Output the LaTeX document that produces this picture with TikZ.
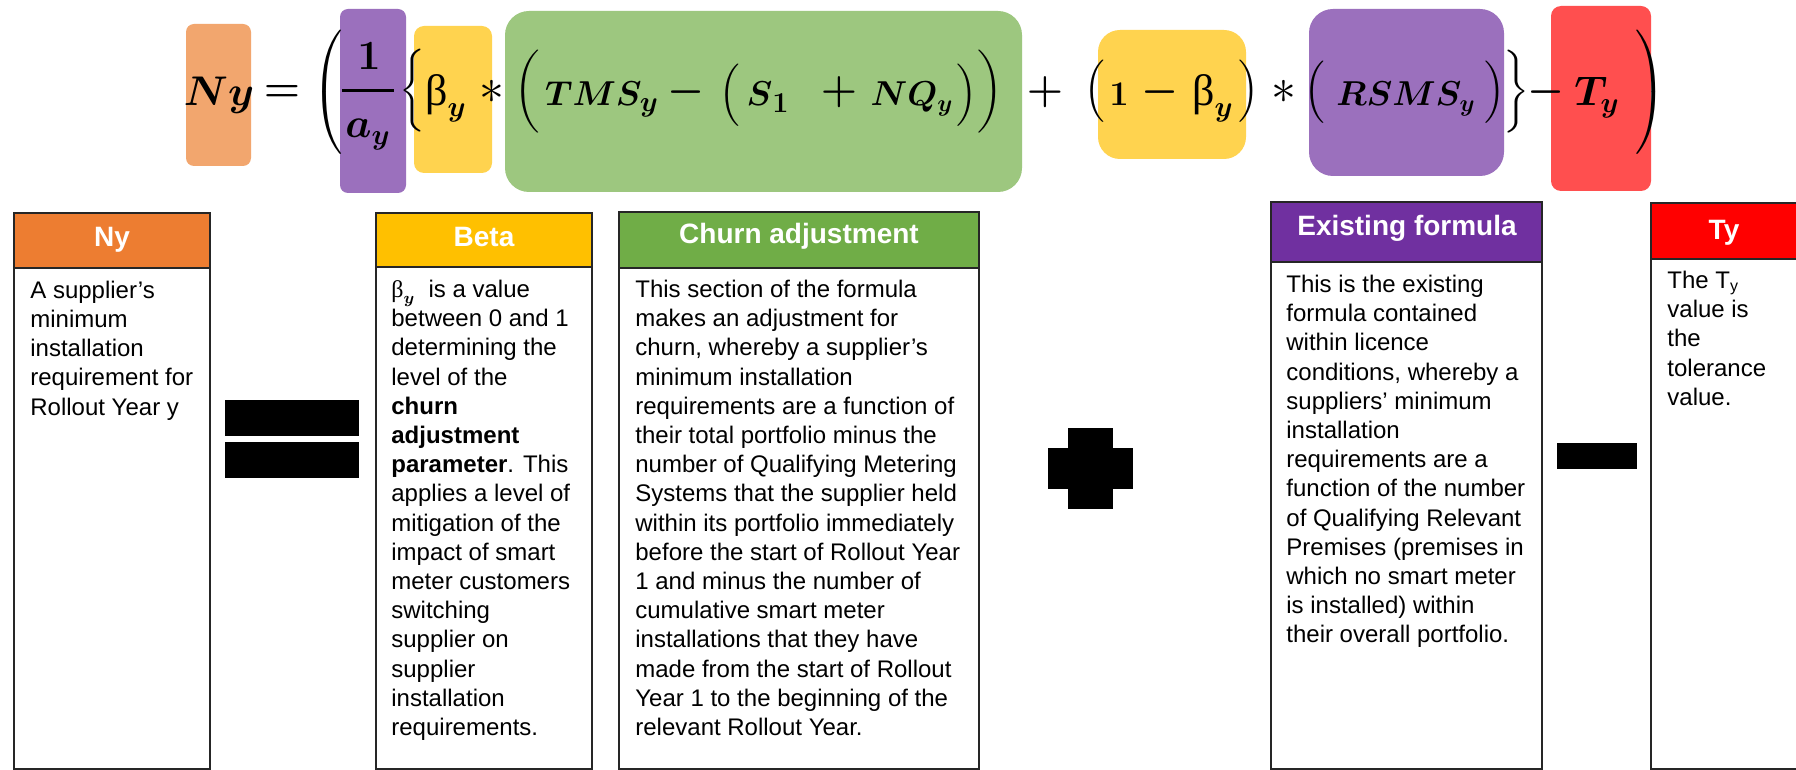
\documentclass[tikz,border=0pt]{standalone}
\usepackage{amsmath}
\usepackage[no-math]{fontspec}
\setmainfont{Liberation Sans}
\newfontfamily\grk{Liberation Serif}
\usepackage{tikz}

\definecolor{nyfill}{RGB}{242,166,110}
\definecolor{alphafill}{RGB}{155,112,189}
\definecolor{betafill}{RGB}{255,211,79}
\definecolor{churnfill}{RGB}{157,199,127}
\definecolor{tolfill}{RGB}{255,79,79}
\definecolor{nyhead}{RGB}{237,125,49}
\definecolor{betahead}{RGB}{255,192,0}
\definecolor{churnhead}{RGB}{112,173,71}
\definecolor{existhead}{RGB}{112,48,160}
\definecolor{tolhead}{RGB}{255,0,0}
\definecolor{edge}{RGB}{38,38,38}

% delimiters of a given height, centred on the math axis
\newcommand{\ldlm}[2]{$\left#1\vcenter{\hbox{\rule{0pt}{#2}}}\right.$}
\newcommand{\rdlm}[2]{$\left.\vcenter{\hbox{\rule{0pt}{#2}}}\right#1$}
\newcommand{\fbeta}{$\mbox{\fontsize{22}{24}\selectfont\grk β}_{\boldsymbol{y}}$}

\tikzset{
  panel/.style={draw=edge,line width=1pt},
  headtext/.style={inner sep=0pt,anchor=base,text=white,font=\bfseries\fontsize{14}{16.8}\selectfont},
  bodytext/.style={inner sep=0pt,anchor=north west,align=left,font=\fontsize{12}{14.6}\selectfont},
  fml/.style={inner sep=0pt,anchor=base,font=\fontsize{19}{22}\selectfont},
  fmlc/.style={inner sep=0pt,anchor=center,font=\fontsize{18}{21.6}\selectfont},
  fop/.style={inner sep=0pt,anchor=center,font=\fontsize{20}{24}\selectfont},
  opbar/.style={fill=black,draw=none}
}

\begin{document}
\begin{tikzpicture}[x=.5pt,y=-.5pt]
\path[use as bounding box] (0,0) rectangle (1796,770);
\path[fill=white] (0,0) rectangle (1796,770);

% highlight boxes behind the formula
\path[fill=nyfill,rounded corners=4pt] (186,24) rectangle (251,166);
\path[fill=alphafill,rounded corners=4pt] (340,9) rectangle (406,193);
\path[fill=betafill,rounded corners=5pt] (414,26) rectangle (492,173);
\path[fill=churnfill,rounded corners=12pt] (505,11) rectangle (1022,192);
\path[fill=betafill,rounded corners=11pt] (1098,30) rectangle (1246,159);
\path[fill=alphafill,rounded corners=12pt] (1309,9) rectangle (1504,176);
\path[fill=tolfill,rounded corners=5pt] (1551,6) rectangle (1651,191);

% formula
\node[fml,font=\fontsize{20}{24}\selectfont] (fNy) at (219,106) {$\boldsymbol{Ny}$};
\node[fop,font=\fontsize{22}{24}\selectfont] (fEq) at (282,93) {$\boldsymbol{=}$};
\node[fmlc] (fOpen) at (329,92) {\ldlm({61.5pt}};
\node[fml,font=\fontsize{21}{24}\selectfont] (fNum) at (369,70) {$\mathbf{1}$};
\draw[line width=1.5pt] (342,91) -- (394,91);
\node[fml,font=\fontsize{22}{24}\selectfont] (fDen) at (368,138) {$\boldsymbol{a}_{\boldsymbol{y}}$};
\node[fmlc] (fLbrace) at (414,91) {\ldlm\{{39pt}};
\node[fml] (fBeta) at (446,106) {\fbeta};
\node[fop,font=\fontsize{24}{26}\selectfont] (fStarA) at (492,92) {$\ast$};
\node[fmlc] (fOpenA) at (528,92) {\ldlm({39.5pt}};
\node[fml] (fTMS) at (602,106) {$\boldsymbol{TMS_y}$};
\node[fop] (fMinA) at (686,92) {$\boldsymbol{-}$};
\node[fmlc] (fOpenB) at (731,95) {\ldlm({28pt}};
\node[fml] (fS) at (768,106) {$\boldsymbol{S}_{\mathbf{1}}$};
\node[fop] (fPlusA) at (839,92) {$\boldsymbol{+}$};
\node[fml,font=\fontsize{18}{21.6}\selectfont] (fNQ) at (912,106) {$\boldsymbol{NQ_y}$};
\node[fmlc] (fCloseB) at (966,95) {\rdlm){28pt}};
\node[fmlc] (fCloseA) at (989,92) {\rdlm){39.5pt}};
\node[fop] (fPlusB) at (1045,92) {$\boldsymbol{+}$};
\node[fmlc] (fOpenC) at (1096,91) {\ldlm({29pt}};
\node[fml] (fOne) at (1119,106) {$\mathbf{1}$};
\node[fop] (fMinB) at (1160,92) {$\boldsymbol{-}$};
\node[fml] (fBetaB) at (1213,106) {\fbeta};
\node[fmlc] (fCloseC) at (1248,91) {\rdlm){29pt}};
\node[fop,font=\fontsize{24}{26}\selectfont] (fStarB) at (1284,92) {$\ast$};
\node[fmlc] (fOpenD) at (1316,92) {\ldlm({30pt}};
\node[fml,font=\fontsize{18}{21.6}\selectfont] (fRSMS) at (1406,106) {$\boldsymbol{RSMS_y}$};
\node[fmlc] (fCloseD) at (1494,92) {\rdlm){30pt}};
\node[fmlc] (fRbrace) at (1515,92) {\rdlm\}{40pt}};
\node[fop] (fMinC) at (1546,92) {$\boldsymbol{-}$};
\node[fml,font=\fontsize{20}{24}\selectfont] (fT) at (1597,106) {$\boldsymbol{T_y}$};
\node[fmlc] (fClose) at (1649,92) {\rdlm){61.5pt}};

% panels
\path[panel,fill=nyhead] (14,213) rectangle (210,268);
\path[panel] (14,268) rectangle (210,769);
\node[headtext] (nyTitle) at (112,247) {Ny};
\node[bodytext] (nyText) at (30,280) {\rule{0pt}{9pt}A supplier’s\\minimum\\installation\\requirement for\\Rollout Year y};

\path[panel,fill=betahead] (376,213) rectangle (592,267);
\path[panel] (376,267) rectangle (592,769);
\node[headtext] (betaTitle) at (484,247) {Beta};
\node[bodytext] (betaText) at (391,279) {\rule{0pt}{9pt}$\mbox{\grk β}_{\boldsymbol{y}}$\ \ is a value\\between 0 and 1\\determining the\\level of the\\\textbf{churn}\\\textbf{adjustment}\\\textbf{parameter}. This\\applies a level of\\mitigation of the\\impact of smart\\meter customers\\switching\\supplier on\\supplier\\installation\\requirements.};

\path[panel,fill=churnhead] (619,212) rectangle (979,268);
\path[panel] (619,268) rectangle (979,769);
\node[headtext] (churnTitle) at (799,244) {Churn adjustment};
\node[bodytext] (churnText) at (635,279) {\rule{0pt}{9pt}This section of the formula\\makes an adjustment for\\churn, whereby a supplier’s\\minimum installation\\requirements are a function of\\their total portfolio minus the\\number of Qualifying Metering\\Systems that the supplier held\\within its portfolio immediately\\before the start of Rollout Year\\1 and minus the number of\\cumulative smart meter\\installations that they have\\made from the start of Rollout\\Year 1 to the beginning of the\\relevant Rollout Year.};

\path[panel,fill=existhead] (1271,202) rectangle (1542,262);
\path[panel] (1271,262) rectangle (1542,769);
\node[headtext] (existTitle) at (1407,236) {Existing formula};
\node[bodytext] (existText) at (1286,274) {\rule{0pt}{9pt}This is the existing\\formula contained\\within licence\\conditions, whereby a\\suppliers’ minimum\\installation\\requirements are a\\function of the number\\of Qualifying Relevant\\Premises (premises in\\which no smart meter\\is installed) within\\their overall portfolio.};

\path[panel,fill=tolhead] (1651,203) rectangle (1800,259);
\path[panel] (1651,259) rectangle (1800,769);
\node[headtext] (tolTitle) at (1724,240) {Ty};
\node[bodytext] (tolText) at (1667,270) {\rule{0pt}{9pt}The T\textsubscript{y}\\value is\\the\\tolerance\\value.};

% operators between the panels
\path[opbar] (225,400) rectangle (359,436);
\path[opbar] (225,442) rectangle (359,478);
\path[opbar] (1068,428) rectangle (1113,509);
\path[opbar] (1048,448) rectangle (1133,489);
\path[opbar] (1557,443) rectangle (1637,469);
\end{tikzpicture}
\end{document}
